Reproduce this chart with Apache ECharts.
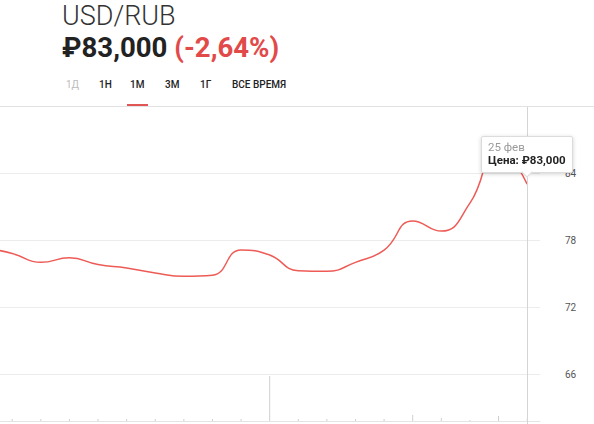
<!DOCTYPE html>
<html><head><meta charset="utf-8">
<script src="https://cdn.jsdelivr.net/npm/echarts@6/dist/echarts.min.js"></script>
<style>
html,body{margin:0;padding:0;background:#fff;width:594px;height:424px;overflow:hidden;font-family:Roboto,"Noto Sans",sans-serif;}
#chart{position:absolute;left:0;top:0;width:594px;height:470px;}
#hdr{position:absolute;left:0;top:0;width:594px;height:107px;z-index:2;pointer-events:none;}
.t1{position:absolute;left:62px;top:3px;font-size:27px;line-height:27px;font-weight:300;color:#333;white-space:nowrap;}
.t2{position:absolute;left:62px;top:34px;font-size:27.6px;line-height:27px;font-weight:700;color:#222;white-space:nowrap;}
.t2 span{color:#e24a4a;}
.tab{position:absolute;top:79px;font-size:10px;font-weight:500;color:#222;white-space:nowrap;}
.uline{position:absolute;left:127px;top:104px;width:21px;height:2px;background:#e05555;}
.sep{position:absolute;left:0;top:106px;width:594px;height:1px;background:#e2e2e2;}
</style></head>
<body>
<div id="chart"></div>
<div id="hdr">
  <div class="t1">USD/RUB</div>
  <div class="t2">₽83,000 <span>(-2,64%)</span></div>
  <div class="tab" style="left:66px;color:#bbb;font-weight:400">1Д</div>
  <div class="tab" style="left:99px">1Н</div>
  <div class="tab" style="left:130px">1М</div>
  <div class="tab" style="left:165px">3М</div>
  <div class="tab" style="left:200px">1Г</div>
  <div class="tab" style="left:232px">ВСЕ ВРЕМЯ</div>
  <div class="uline"></div>
  <div class="sep"></div>
</div>
<script>
const dates = ['31 янв','1 фев','2 фев','3 фев','4 фев','7 фев','8 фев','9 фев','10 фев','11 фев','14 фев','15 фев','16 фев','17 фев','18 фев','21 фев','22 фев','23 фев','24 фев','25 фев'];
const prices = [77.3,76.8,76.0,76.4,75.8,75.5,75.05,74.75,74.85,77.1,76.65,75.25,75.2,76.0,77.1,79.7,78.8,81.3,86.2,83.0];
const volumes = [0,2,2,2,2,2,2,2,2,2,45,2,2,2,2,6,3,1,5,3];
const yTicks = [60,66,72,78,84,90];

const chart = echarts.init(document.getElementById('chart'), null, {renderer:'svg'});
const lastIdx = prices.length - 1;
const xMin = 0.573, xMax = 19.45;
chart.setOption({
  animation:false,
  grid:[
    {left:0, width:540, top:106, height:335},
    {left:0, width:540, top:376, height:45}
  ],
  xAxis:[
    {type:'value', gridIndex:0, min:xMin, max:xMax, show:false, splitLine:{show:false}},
    {type:'value', gridIndex:1, min:xMin, max:xMax, axisLine:{show:true,lineStyle:{color:'#e4e4e4'}}, axisTick:{show:false}, axisLabel:{show:false}, splitLine:{show:false}}
  ],
  yAxis:[
    {type:'value', gridIndex:0, position:'right', min:yTicks[0], max:yTicks[yTicks.length-1], interval:6,
     axisLine:{show:false}, axisTick:{show:false},
     axisLabel:{margin:25, color:'#555', fontSize:10, fontFamily:'Roboto', formatter:v=> (v===90||v===60)?'':String(v)},
     splitLine:{lineStyle:{color:'#ececec'}}},
    {type:'value', gridIndex:1, min:0, max:45, show:false, splitLine:{show:false}}
  ],
  axisPointer:{link:[{xAxisIndex:'all'}]},
  tooltip:{
    trigger:'axis', triggerOn:'none', alwaysShowContent:true,
    axisPointer:{type:'line', snap:true, lineStyle:{color:'#d5d5d5', width:1, type:'solid'}, label:{show:false}},
    backgroundColor:'#fff', borderColor:'#dcdcdc', borderWidth:1, padding:[4,6,5,6],
    extraCssText:'box-shadow:0 1px 4px rgba(0,0,0,0.18);border-radius:2px;overflow:visible;',
    position:function(point, params, dom, rect, size){
      const p = chart.convertToPixel({xAxisIndex:0,yAxisIndex:0},[lastIdx, prices[lastIdx]]);
      return [p[0]-size.contentSize[0]/2, p[1]-size.contentSize[1]-11];
    },
    formatter:function(params){
      const p = params.find(x=>x.seriesIndex===0) || params[0];
      const i = p.dataIndex;
      return '<div style="position:relative;font-family:Roboto,sans-serif;line-height:13px">'+
        '<div style="color:#9a9a9a;font-size:11.5px">'+dates[i]+'</div>'+
        '<div style="color:#222;font-size:11.5px;font-weight:700">Цена: ₽'+prices[i].toFixed(3).replace('.',',')+'</div>'+
        '<div style="position:absolute;left:50%;bottom:-9px;width:7px;height:7px;margin-left:-4px;background:#fff;border-right:1px solid #dcdcdc;border-bottom:1px solid #dcdcdc;transform:rotate(45deg)"></div>'+
        '</div>';
    }
  },
  series:[
    {type:'line', xAxisIndex:0, yAxisIndex:0, smooth:0.5, symbol:'none',
     lineStyle:{color:'#d9534f', width:1.5},
     data:prices.map((v,i)=>[i,v])},
    {type:'bar', xAxisIndex:1, yAxisIndex:1, barWidth:1,
     itemStyle:{color:'#cfcfcf'},
     data:volumes.map((v,i)=>[i,v])}
  ]
});
chart.dispatchAction({type:'showTip', seriesIndex:0, dataIndex:lastIdx});
</script>
</body></html>
